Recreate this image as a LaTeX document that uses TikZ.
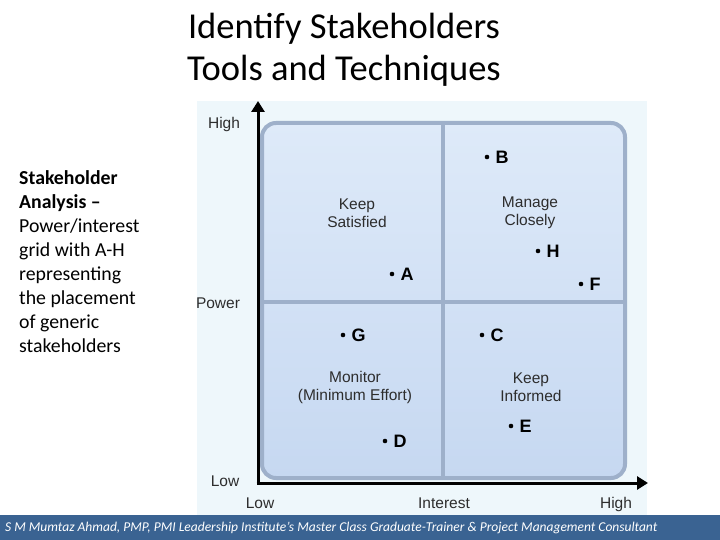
\documentclass[tikz,border=0pt]{standalone}
\usepackage{fontspec}
\setmainfont{Carlito}
\newfontfamily\arialf{Liberation Sans}
\usetikzlibrary{arrows.meta}
\definecolor{panelbg}{RGB}{238,247,251}
\definecolor{footerblue}{RGB}{58,99,146}
\definecolor{gridline}{RGB}{158,176,202}
\definecolor{celltop}{RGB}{222,234,249}
\definecolor{cellbot}{RGB}{198,216,241}
\definecolor{labelgray}{RGB}{45,45,45}
\tikzset{
  quadtext/.style={font=\arialf\fontsize{15.5}{18}\selectfont, align=center, text=labelgray},
  axislabel/.style={font=\arialf\fontsize{15.5}{18}\selectfont, text=labelgray, anchor=base},
  pointdot/.style={circle, fill=black, inner sep=0pt, minimum size=4.6pt},
  pointlabel/.style={font=\arialf\bfseries\fontsize{18}{20}\selectfont, anchor=west, inner sep=0pt},
  axisline/.style={line width=3pt, -{Triangle[length=11pt,width=13pt]}},
  gridstroke/.style={draw=gridline, line width=4pt},
}
\begin{document}
\begin{tikzpicture}[x=1pt,y=-1pt]
\useasboundingbox (0,0) rectangle (720,540);
\fill[white] (0,0) rectangle (720,540);
\fill[panelbg] (197,101) rectangle (647,515);
\fill[footerblue] (0,515) rectangle (720,540);

% title
\node[font=\fontsize{36.5}{42}\selectfont, align=center] (title) at (344,50) {Identify Stakeholders\\Tools and Techniques};

% left description
\node[font=\fontsize{19.8}{24}\selectfont, align=left, anchor=north west, inner sep=0pt] (desc) at (19,170)
  {\textbf{Stakeholder}\\\textbf{Analysis –}\\Power/interest\\grid with A-H\\representing\\the placement\\of generic\\stakeholders};

% grid
\draw[gridstroke, rounded corners=14pt, top color=celltop, bottom color=cellbot] (262,123) rectangle (625,478);
\coordinate (vtop) at (443,123);
\coordinate (vbot) at (443,478);
\coordinate (hleft) at (262,302);
\coordinate (hright) at (625,302);
\draw[gridstroke] (vtop) -- (vbot);
\draw[gridstroke] (hleft) -- (hright);

% axes
\coordinate (origin) at (258,483);
\coordinate (ytip) at (258,101);
\coordinate (xtip) at (648,483);
\draw[axisline] (origin) -- (ytip);
\draw[axisline] ([xshift=-1.5pt]origin) -- (xtip);

% axis labels
\node[axislabel] (yhigh) at (224,129) {High};
\node[axislabel] (ypower) at (218,308) {Power};
\node[axislabel] (ylow) at (225,486) {Low};
\node[axislabel] (xlow) at (260,508) {Low};
\node[axislabel] (xint) at (444,508) {Interest};
\node[axislabel] (xhigh) at (616,508) {High};

% quadrant labels
\node[quadtext] (ks) at (357,213) {Keep\\Satisfied};
\node[quadtext] (mc) at (530,213) {Manage\\Closely};
\node[quadtext] (mon) at (355,387) {Monitor\\(Minimum Effort)};
\node[quadtext] (ki) at (531,387) {Keep\\Informed};

% points
\foreach \n/\px/\py in {B/487/157, A/392/274, H/538/251, F/581/284, G/343/335, C/482/335, E/511/426, D/385/441}{
  \node[pointdot] (dot\n) at (\px,\py) {};
  \node[pointlabel] (lab\n) at ([xshift=6pt]dot\n.east) {\n};
}

% footer
\node[font=\itshape\fontsize{13.5}{15}\selectfont, text=white, anchor=west, inner sep=0pt] (footer) at (5,527.5)
  {S M Mumtaz Ahmad, PMP, PMI Leadership Institute’s Master Class Graduate-Trainer \& Project Management Consultant};
\end{tikzpicture}
\end{document}
